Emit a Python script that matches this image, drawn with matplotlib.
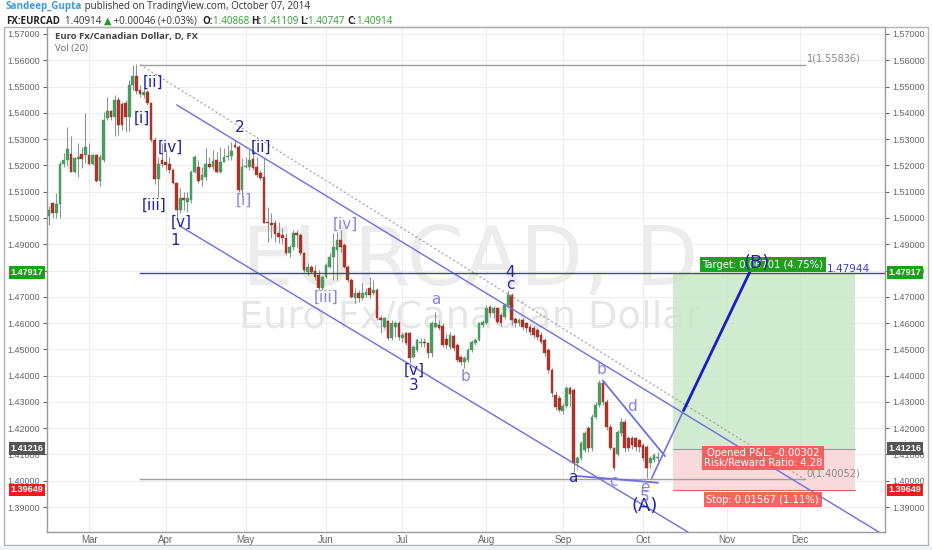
import matplotlib
matplotlib.use('Agg')
import matplotlib.pyplot as plt
import matplotlib.transforms as mtransforms
from matplotlib.patches import Rectangle
from matplotlib.ticker import FormatStrFormatter
import numpy as np
import pandas as pd

# ---------------- data ----------------
dates = pd.bdate_range('2014-02-14', '2014-12-31')

opens = [1.5009, 1.5056, 1.5020, 1.5052, 1.5205, 1.5221, 1.5243, 1.5176, 1.5223, 1.5243,
         1.5240, 1.5240, 1.5205, 1.5240, 1.5142, 1.5221, 1.5379, 1.5408, 1.5385, 1.5449,
         1.5434, 1.5436, 1.5383, 1.5506, 1.5540, 1.5487, 1.5468, 1.5481, 1.5439, 1.5297,
         1.5147, 1.5221, 1.5214, 1.5205, 1.5183, 1.5134, 1.5030, 1.5075, 1.5062, 1.5068,
         1.5176, 1.5195, 1.5145, 1.5157, 1.5205, 1.5193, 1.5221, 1.5176, 1.5214, 1.5231,
         1.5236, 1.5278, 1.5271, 1.5107, 1.5193, 1.5193, 1.5223, 1.5195, 1.5170, 1.5155,
         1.4986, 1.4980, 1.4982, 1.4941, 1.4935, 1.4923, 1.4865, 1.4891, 1.4942, 1.4935,
         1.4865, 1.4796, 1.4812, 1.4800, 1.4783, 1.4732, 1.4777, 1.4815, 1.4853, 1.4878,
         1.4916, 1.4897, 1.4815, 1.4764, 1.4694, 1.4713, 1.4694, 1.4707, 1.4732, 1.4713,
         1.4726, 1.4618, 1.4586, 1.4606, 1.4542, 1.4586, 1.4599, 1.4542, 1.4561, 1.4561,
         1.4472, 1.4498, 1.4523, 1.4529, 1.4523, 1.4485, 1.4586, 1.4593, 1.4590, 1.4540,
         1.4510, 1.4551, 1.4517, 1.4472, 1.4453, 1.4460, 1.4498, 1.4526, 1.4536, 1.4593,
         1.4599, 1.4662, 1.4637, 1.4656, 1.4631, 1.4624, 1.4669, 1.4707, 1.4614, 1.4599,
         1.4612, 1.4599, 1.4586, 1.4580, 1.4573, 1.4555, 1.4536, 1.4498, 1.4422, 1.4326,
         1.4314, 1.4265, 1.4285, 1.4352, 1.4345, 1.4066, 1.4085, 1.4117, 1.4200, 1.4125,
         1.4244, 1.4290, 1.4371, 1.4300, 1.4206, 1.4124, 1.4100, 1.4181, 1.4225, 1.4162,
         1.4162, 1.4162, 1.4155, 1.4136, 1.4130, 1.4066, 1.4080, 1.40868]
highs = [1.5047, 1.5060, 1.5095, 1.5215, 1.5246, 1.5345, 1.5312, 1.5233, 1.5284, 1.5271,
         1.5398, 1.5284, 1.5246, 1.5243, 1.5245, 1.5404, 1.5459, 1.5411, 1.5468, 1.5462,
         1.5440, 1.5449, 1.5525, 1.5582, 1.5584, 1.5506, 1.5493, 1.5487, 1.5443, 1.5309,
         1.5233, 1.5284, 1.5259, 1.5233, 1.5189, 1.5138, 1.5113, 1.5100, 1.5100, 1.5183,
         1.5240, 1.5221, 1.5195, 1.5265, 1.5233, 1.5259, 1.5252, 1.5271, 1.5265, 1.5278,
         1.5290, 1.5297, 1.5278, 1.5227, 1.5233, 1.5259, 1.5259, 1.5233, 1.5183, 1.5227,
         1.5043, 1.5018, 1.4992, 1.4986, 1.4960, 1.4942, 1.4897, 1.4954, 1.4954, 1.4942,
         1.4872, 1.4827, 1.4821, 1.4821, 1.4802, 1.4783, 1.4827, 1.4865, 1.4942, 1.4948,
         1.4954, 1.4904, 1.4821, 1.4770, 1.4732, 1.4726, 1.4751, 1.4732, 1.4777, 1.4764,
         1.4732, 1.4631, 1.4625, 1.4612, 1.4612, 1.4606, 1.4606, 1.4567, 1.4567, 1.4567,
         1.4517, 1.4542, 1.4542, 1.4542, 1.4529, 1.4606, 1.4643, 1.4612, 1.4600, 1.4560,
         1.4565, 1.4558, 1.4525, 1.4480, 1.4475, 1.4505, 1.4535, 1.4545, 1.4605, 1.4612,
         1.4669, 1.4670, 1.4665, 1.4662, 1.4640, 1.4675, 1.4726, 1.4713, 1.4625, 1.4620,
         1.4618, 1.4605, 1.4595, 1.4590, 1.4580, 1.4565, 1.4545, 1.4505, 1.4430, 1.4340,
         1.4325, 1.4295, 1.4360, 1.4360, 1.4352, 1.4095, 1.4150, 1.4190, 1.4210, 1.4255,
         1.4300, 1.4383, 1.4380, 1.4310, 1.4215, 1.4130, 1.4195, 1.4240, 1.4235, 1.4170,
         1.4170, 1.4168, 1.4160, 1.4145, 1.4135, 1.4095, 1.4105, 1.41109]
lows = [1.4974, 1.4999, 1.4998, 1.4999, 1.5195, 1.5198, 1.5176, 1.5172, 1.5157, 1.5189,
        1.5208, 1.5202, 1.5202, 1.5138, 1.5122, 1.5214, 1.5373, 1.5373, 1.5312, 1.5316,
        1.5335, 1.5328, 1.5332, 1.5487, 1.5472, 1.5462, 1.5455, 1.5430, 1.5290, 1.5129,
        1.5081, 1.5195, 1.5183, 1.5170, 1.5129, 1.5005, 1.5020, 1.5030, 1.5024, 1.5056,
        1.5170, 1.5132, 1.5120, 1.5145, 1.5189, 1.5183, 1.5170, 1.5170, 1.5214, 1.5221,
        1.5221, 1.5265, 1.5100, 1.5081, 1.5189, 1.5183, 1.5183, 1.5157, 1.5145, 1.4980,
        1.4910, 1.4923, 1.4910, 1.4903, 1.4900, 1.4859, 1.4853, 1.4878, 1.4891, 1.4859,
        1.4796, 1.4783, 1.4790, 1.4764, 1.4726, 1.4726, 1.4770, 1.4808, 1.4764, 1.4764,
        1.4872, 1.4808, 1.4758, 1.4694, 1.4675, 1.4681, 1.4688, 1.4701, 1.4694, 1.4707,
        1.4612, 1.4561, 1.4580, 1.4536, 1.4536, 1.4548, 1.4536, 1.4529, 1.4517, 1.4447,
        1.4466, 1.4491, 1.4510, 1.4510, 1.4466, 1.4472, 1.4580, 1.4574, 1.4510, 1.4505,
        1.4500, 1.4495, 1.4450, 1.4440, 1.4428, 1.4450, 1.4490, 1.4515, 1.4530, 1.4585,
        1.4595, 1.4625, 1.4620, 1.4595, 1.4590, 1.4615, 1.4662, 1.4593, 1.4585, 1.4590,
        1.4575, 1.4565, 1.4555, 1.4545, 1.4535, 1.4520, 1.4475, 1.4410, 1.4320, 1.4270,
        1.4260, 1.4255, 1.4275, 1.4285, 1.4034, 1.4050, 1.4078, 1.4110, 1.4110, 1.4115,
        1.4235, 1.4280, 1.4290, 1.4195, 1.4117, 1.4041, 1.4095, 1.4170, 1.4110, 1.4115,
        1.4120, 1.4115, 1.4110, 1.4075, 1.4009, 1.4050, 1.4070, 1.40747]
closes = [1.5030, 1.5020, 1.5052, 1.5205, 1.5221, 1.5261, 1.5176, 1.5227, 1.5233, 1.5223,
          1.5269, 1.5205, 1.5240, 1.5142, 1.5233, 1.5373, 1.5407, 1.5383, 1.5449, 1.5353,
          1.5354, 1.5383, 1.5506, 1.5540, 1.5484, 1.5470, 1.5481, 1.5436, 1.5297, 1.5147,
          1.5205, 1.5205, 1.5202, 1.5183, 1.5134, 1.5030, 1.5075, 1.5068, 1.5075, 1.5176,
          1.5233, 1.5142, 1.5164, 1.5205, 1.5195, 1.5217, 1.5176, 1.5214, 1.5233, 1.5236,
          1.5256, 1.5269, 1.5107, 1.5195, 1.5198, 1.5221, 1.5189, 1.5164, 1.5151, 1.4982,
          1.4980, 1.4975, 1.4939, 1.4929, 1.4922, 1.4865, 1.4891, 1.4942, 1.4935, 1.4865,
          1.4802, 1.4815, 1.4796, 1.4777, 1.4732, 1.4777, 1.4821, 1.4853, 1.4891, 1.4916,
          1.4891, 1.4815, 1.4764, 1.4701, 1.4713, 1.4694, 1.4713, 1.4719, 1.4707, 1.4726,
          1.4618, 1.4612, 1.4618, 1.4542, 1.4599, 1.4599, 1.4548, 1.4555, 1.4523, 1.4466,
          1.4510, 1.4536, 1.4529, 1.4523, 1.4485, 1.4599, 1.4599, 1.4580, 1.4517, 1.4517,
          1.4555, 1.4504, 1.4460, 1.4453, 1.4466, 1.4498, 1.4529, 1.4536, 1.4599, 1.4605,
          1.4656, 1.4637, 1.4656, 1.4605, 1.4599, 1.4669, 1.4707, 1.4612, 1.4599, 1.4612,
          1.4586, 1.4580, 1.4567, 1.4555, 1.4548, 1.4529, 1.4485, 1.4422, 1.4333, 1.4282,
          1.4269, 1.4285, 1.4352, 1.4330, 1.4066, 1.4085, 1.4143, 1.4181, 1.4125, 1.4244,
          1.4290, 1.4371, 1.4300, 1.4206, 1.4124, 1.4047, 1.4187, 1.4225, 1.4124, 1.4124,
          1.4136, 1.4130, 1.4130, 1.4086, 1.4047, 1.4086, 1.4098, 1.40914]

month_labels = ['Mar', 'Apr', 'May', 'Jun', 'Jul', 'Aug', 'Sep', 'Oct', 'Nov', 'Dec']
price_ticks = [1.39, 1.40, 1.41, 1.42, 1.43, 1.44, 1.45, 1.46, 1.47, 1.48,
               1.49, 1.50, 1.51, 1.52, 1.53, 1.54, 1.55, 1.56, 1.57]

# drawings: (bar index, price) anchors
fib_top, fib_bottom = 1.55836, 1.40052
fib_bars = [25, 207.4]
upper_channel = [(35.1, 1.54298), (227.7, 1.38050)]
lower_channel = [(35.9, 1.49694), (175.3, 1.38050)]
hline_level = 1.47917
hline_start = 25
tri_bd = [(152.0, 1.43807), (169.0, 1.40942)]
tri_ae = [(144.8, 1.40181), (167.1, 1.39926)]
proj_thin = [(165.4, 1.40105), (174.2, 1.42692)]
proj_thick = [(174.2, 1.42692), (192.3, 1.47944)]

entry_price, target_price, stop_price = 1.41216, 1.47917, 1.39649
pos_bars = [171.2, 221.1]

dark_labels = [('[ii]', 28.5, 1.5517, 11), ('[i]', 25.5, 1.5380, 11), ('[iv]', 33.2, 1.5270, 11),
               ('[iii]', 28.8, 1.5049, 11), ('[v]', 36.2, 1.4985, 11), ('1', 34.6, 1.4916, 11),
               ('2', 52.4, 1.5346, 11), ('[ii]', 58.2, 1.5270, 11), ('[v]', 100.1, 1.4422, 11),
               ('3', 100.1, 1.4361, 11), ('4', 126.5, 1.4794, 11), ('c', 126.5, 1.4745, 11),
               ('a', 143.8, 1.4014, 11), ('(A)', 163.5, 1.3904, 13), ('(B)', 194.2, 1.4829, 13)]
light_labels = [('[i]', 53.5, 1.5068), ('[iii]', 76.0, 1.4699), ('[iv]', 81.2, 1.4977),
                ('a', 106.2, 1.4688), ('b', 114.4, 1.4395), ('b', 151.7, 1.4425),
                ('d', 160.0, 1.4281), ('c', 155.0, 1.3999), ('e', 163.5, 1.3976),
                ('5', 163.5, 1.3938)]

# ---------------- figure ----------------
W, H = 932, 550
fig = plt.figure(figsize=(W / 100, H / 100), dpi=100)
fig.patch.set_facecolor('white')
ax = fig.add_axes([47 / W, 1 - 532 / H, 838 / W, 505 / H])
ax.set_xlim(-0.55, 229.4)
ax.set_ylim(1.38050, 1.57266)

O = np.array(opens); Hh = np.array(highs); L = np.array(lows); C = np.array(closes)
xs = np.arange(len(O))

# grid / ticks
month_pos = []
for m in range(3, 13):
    idx = np.where((dates.month == m) & (dates.year == 2014))[0]
    month_pos.append(idx[0])
ax.set_xticks(month_pos)
ax.set_xticklabels(month_labels)
ax.set_yticks(price_ticks)
ax.yaxis.set_major_formatter(FormatStrFormatter('%.5f'))
ax.grid(True, color='#eeeeee', lw=0.8)
ax.set_axisbelow(True)
ax.tick_params(axis='y', left=True, right=True, labelleft=True, labelright=True,
               labelsize=6.5, colors='#666666', length=3, pad=2)
ax.tick_params(axis='x', labelsize=7, colors='#666666', length=0, pad=2)
for lab in ax.get_xticklabels() + ax.get_yticklabels():
    lab.set_fontfamily('Liberation Sans')
for sp in ax.spines.values():
    sp.set_color('#9a9a9a')
    sp.set_linewidth(1)

# watermark
ax.text(0.505, 0.533, 'EURCAD, D', transform=ax.transAxes, ha='center', va='center',
        fontsize=59, color='#ececec', family='DejaVu Sans', zorder=1)
ax.text(0.505, 0.424, 'Euro Fx/Canadian Dollar', transform=ax.transAxes, ha='center', va='center',
        fontsize=27.5, color='#e6e6e6', family='DejaVu Sans', zorder=1)

# candles
up = C >= O
col = np.where(up, '#4a9a62', '#a8352c')
ax.vlines(xs, L, Hh, color='#8d9690', lw=0.8, zorder=3)
ax.bar(xs, np.maximum(np.abs(C - O), 0.00008), bottom=np.minimum(O, C), width=0.74,
       color=col, edgecolor=col, lw=0.3, zorder=4)

# position tool
ax.add_patch(Rectangle((pos_bars[0], entry_price), pos_bars[1] - pos_bars[0], target_price - entry_price,
                       facecolor='#c9e8c9', edgecolor='none', alpha=0.85, zorder=2))
ax.add_patch(Rectangle((pos_bars[0], stop_price), pos_bars[1] - pos_bars[0], entry_price - stop_price,
                       facecolor='#f9d4d4', edgecolor='none', alpha=0.85, zorder=2))
ax.plot(pos_bars, [entry_price] * 2, color='#9a9a9a', lw=0.8, zorder=2.5)
ax.plot(pos_bars, [stop_price] * 2, color='#e06666', lw=0.8, zorder=2.5)

# fib
ax.plot(fib_bars, [fib_top] * 2, color='#a0a0a0', lw=1, zorder=5)
ax.plot(fib_bars, [fib_bottom] * 2, color='#a0a0a0', lw=1, zorder=5)
ax.plot(fib_bars, [fib_top, fib_bottom], color='#a0a0a0', lw=0.8, ls=(0, (2, 2)), zorder=5)
ax.text(fib_bars[1] + 0.5, fib_top + 0.0005, '1(1.55836)', fontsize=7, color='#888888',
        va='bottom', ha='left', family='DejaVu Sans', zorder=6)
ax.text(fib_bars[1] + 0.5, fib_bottom + 0.0005, '0(1.40052)', fontsize=7, color='#888888',
        va='bottom', ha='left', family='DejaVu Sans', zorder=6)

chan_col = '#6e6ede'
for seg in (upper_channel, lower_channel):
    ax.plot([seg[0][0], seg[1][0]], [seg[0][1], seg[1][1]], color=chan_col, lw=1, zorder=5)
ax.plot([hline_start, 229.4], [hline_level] * 2, color='#3d3dc0', lw=1, zorder=5)
for seg in (tri_bd, tri_ae):
    ax.plot([seg[0][0], seg[1][0]], [seg[0][1], seg[1][1]], color='#6e6ede', lw=1.3, zorder=5)
ax.plot([proj_thin[0][0], proj_thin[1][0]], [proj_thin[0][1], proj_thin[1][1]],
        color='#7373dc', lw=1.2, zorder=5)
ax.plot([proj_thick[0][0], proj_thick[1][0]], [proj_thick[0][1], proj_thick[1][1]],
        color='#1c1cc4', lw=2, zorder=5)

# label boxes of position tool
mid = 0.5 * (pos_bars[0] + pos_bars[1]) - 0.3
ax.text(213.5, 1.4805, '1.47944', fontsize=7.5, color='#3d3dc0', ha='left', va='center',
        family='DejaVu Sans', zorder=6)
ax.text(mid, 1.4822, 'Target: 0.06701 (4.75%)', fontsize=7.2, color='white', ha='center', va='center',
        family='DejaVu Sans', zorder=7,
        bbox=dict(boxstyle='square,pad=0.25', facecolor='#1f9e1f', edgecolor='none'))
ax.text(mid, 1.4087, 'Opened P&L: -0.00302\nRisk/Reward Ratio: 4.28', fontsize=7.2, color='white',
        ha='center', va='center', family='DejaVu Sans', zorder=7, linespacing=0.95,
        bbox=dict(boxstyle='square,pad=0.2', facecolor='#f25555', edgecolor='none', alpha=0.9))
ax.text(mid, 1.3927, 'Stop: 0.01567 (1.11%)', fontsize=7.2, color='white', ha='center', va='center',
        family='DejaVu Sans', zorder=7,
        bbox=dict(boxstyle='square,pad=0.25', facecolor='#f25555', edgecolor='none', alpha=0.9))

# wave labels
for t, bx, py, fs in dark_labels:
    ax.text(bx, py, t, fontsize=fs, color='#2323a8', ha='center', va='center',
            family='DejaVu Sans', zorder=8)
for t, bx, py in light_labels:
    ax.text(bx, py, t, fontsize=11, color='#8585dd', ha='center', va='center',
            family='DejaVu Sans', zorder=8)

# axis price tags
trR = mtransforms.blended_transform_factory(ax.transAxes, ax.transData)
for price, bg in ((target_price, '#1e9e1e'), (entry_price, '#555555'), (stop_price, '#ee1c1c')):
    txt = '%.5f' % price
    ax.text(1.004, price, txt, transform=trR, ha='left', va='center', fontsize=6.5, color='white',
            family='Liberation Sans', fontweight='bold', clip_on=False, zorder=9,
            bbox=dict(boxstyle='square,pad=0.2', facecolor=bg, edgecolor='none'))
    ax.text(-0.004, price, txt, transform=trR, ha='right', va='center', fontsize=6.5, color='white',
            family='Liberation Sans', fontweight='bold', clip_on=False, zorder=9,
            bbox=dict(boxstyle='square,pad=0.2', facecolor=bg, edgecolor='none'))

# top-left title inside chart
ax.text(8 / 838, 1 - 10 / 505, 'Euro Fx/Canadian Dollar, D, FX', transform=ax.transAxes,
        fontsize=6.8, fontweight='bold', color='#444444', family='Open Sans', va='center', ha='left')
ax.text(8 / 838, 1 - 22 / 505, 'Vol (20)', transform=ax.transAxes,
        fontsize=6.8, color='#666666', family='Open Sans', va='center', ha='left')

# outer frame
fig.add_artist(Rectangle((4 / W, 5 / H), 924 / W, 518 / H, transform=fig.transFigure,
                         fill=False, edgecolor='#b4b4b4', lw=1))
fig.add_artist(Rectangle((0, 0), 1, 4 / H, transform=fig.transFigure,
                         facecolor='#eef1f5', edgecolor='none'))

# header (chained pieces)
renderer = fig.canvas.get_renderer()
def chain(pieces, x0, y, size):
    xpx = x0
    for txt, color, weight in pieces:
        t = fig.text(xpx / W, 1 - y / H, txt, fontsize=size, color=color, fontweight=weight,
                     family=['Open Sans', 'DejaVu Sans'], va='center', ha='left')
        bb = t.get_window_extent(renderer=renderer)
        xpx += bb.width
    return xpx

chain([('Sandeep_Gupta', '#3b9ad9', 'bold'),
       (' published on TradingView.com, October 07, 2014', '#333333', 'normal')], 6, 7, 7.1)
chain([('FX:EURCAD', '#222222', 'bold'), ('  1.40914 ', '#333333', 'normal'),
       ('\u25B2', '#1e9e1e', 'normal'), (' +0.00046 (+0.03%)  ', '#333333', 'normal'),
       ('O:', '#222222', 'bold'), ('1.40868 ', '#2aa02a', 'normal'),
       ('H:', '#222222', 'bold'), ('1.41109 ', '#2aa02a', 'normal'),
       ('L:', '#222222', 'bold'), ('1.40747 ', '#2aa02a', 'normal'),
       ('C:', '#222222', 'bold'), ('1.40914', '#2aa02a', 'normal')], 6, 21, 7.0)

fig.savefig('out.png', dpi=100, facecolor='white')
